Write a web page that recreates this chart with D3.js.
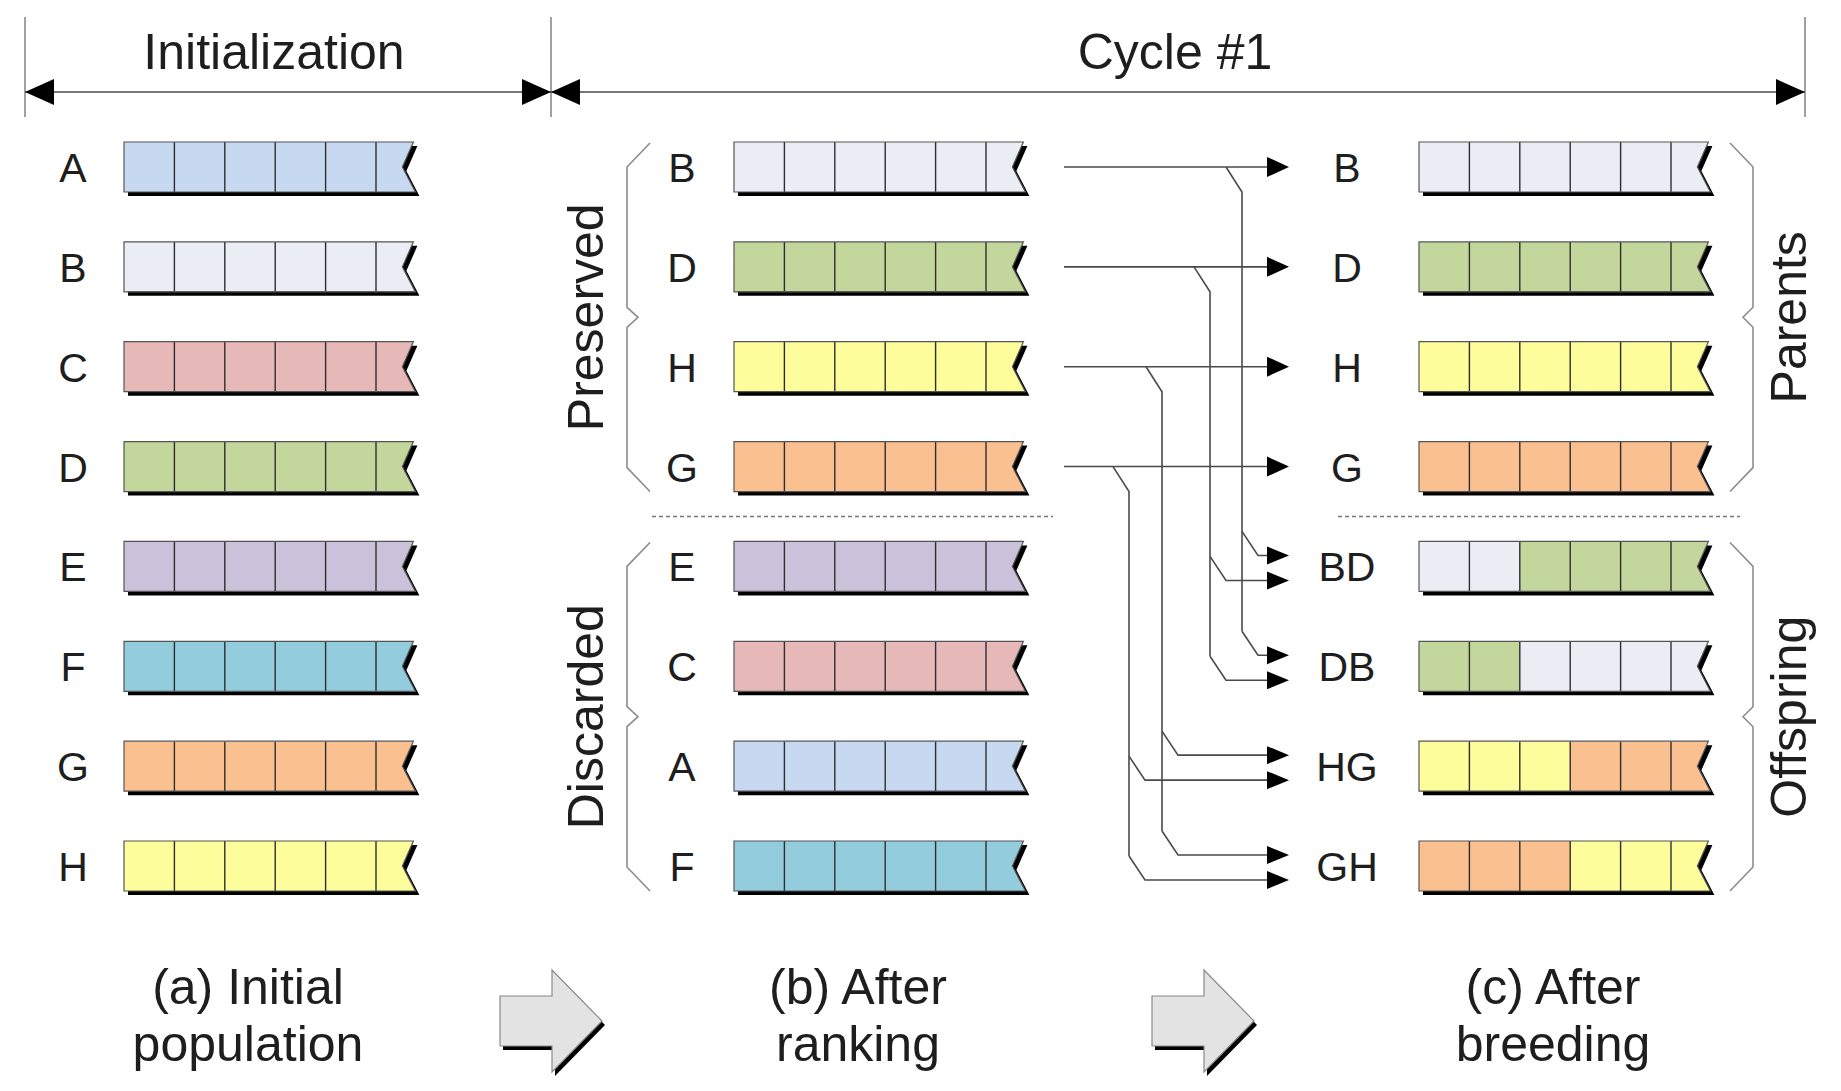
<!DOCTYPE html>
<html>
<head>
<meta charset="utf-8">
<script src="https://cdn.jsdelivr.net/npm/d3@7"></script>
<style>
  html, body { margin: 0; padding: 0; background: #ffffff; }
  svg { display: block; }
</style>
</head>
<body>
<script>
// ---------------- data ----------------
const initialRows = ["A", "B", "C", "D", "E", "F", "G", "H"];
const rankedRows = ["B", "D", "H", "G", "E", "C", "A", "F"];
const bredRows = ["B", "D", "H", "G", "BD", "DB", "HG", "GH"];
const crossoverCut = [6, 6, 6, 6, 2, 2, 3, 3];   // genes taken from the first parent
const geneCount = 6;
const parentRows = ["B", "D", "H", "G"];
const geneKeys = ["A", "B", "C", "D", "E", "F", "G", "H"];
const geneColors = ["#c6d9f1", "#eaedf4", "#e6b9b8", "#c3d69b", "#ccc1da", "#93cddd", "#fac090", "#fdfd9c"];
const phaseTitles = ["Initialization", "Cycle #1"];
const captions = [["(a) Initial", "population"], ["(b) After", "ranking"], ["(c) After", "breeding"]];
const groupLabels = ["Preserved", "Discarded", "Parents", "Offspring"];

// ---------------- layout ----------------
const W = 1841, H = 1091;
const FONT = "'Liberation Sans', Arial, Helvetica, sans-serif";
const TEXT = "#1e1e1e";
const LINE = "#4a4a4a";

const svg = d3.select("body").append("svg").attr("width", W).attr("height", H);

const y = d3.scalePoint().domain(d3.range(8)).range([167, 866]);
const gx = d3.scaleLinear().domain([0, geneCount]).range([0, 302.4]);
const color = d3.scaleOrdinal().domain(geneKeys).range(geneColors);
const BAR_H = 50;
const barEnd = gx(geneCount);
const barPath = `M0,0H${barEnd - 13}L${barEnd - 24},${BAR_H / 2}L${barEnd - 11},${BAR_H}H0Z`;

svg.append("defs").append("clipPath").attr("id", "barclip")
  .append("path").attr("d", barPath);

function genesOf(label, i) {
  if (label.length === 1) return d3.range(geneCount).map(() => label);
  return d3.range(geneCount).map(j => (j < crossoverCut[i] ? label[0] : label[1]));
}

function drawColumn(labels, x0, labelX) {
  labels.forEach((lab, i) => {
    const g = svg.append("g").attr("transform", `translate(${x0},${y(i) - BAR_H / 2})`);
    g.append("path").attr("d", barPath).attr("transform", "translate(4,4)").attr("fill", "#000");
    const cells = g.append("g").attr("clip-path", "url(#barclip)");
    cells.selectAll("rect").data(genesOf(lab, i)).join("rect")
      .attr("x", (d, j) => gx(j)).attr("y", 0)
      .attr("width", gx(1) - gx(0) + 0.5).attr("height", BAR_H)
      .attr("fill", d => color(d));
    cells.selectAll("line").data(d3.range(1, geneCount)).join("line")
      .attr("x1", d => gx(d)).attr("x2", d => gx(d))
      .attr("y1", 0).attr("y2", BAR_H)
      .attr("stroke", "#2e2e2e").attr("stroke-width", 1.4);
    g.append("path").attr("d", barPath).attr("fill", "none")
      .attr("stroke", "#555").attr("stroke-width", 1.2);
    svg.append("text").attr("x", labelX).attr("y", y(i) + 15)
      .attr("text-anchor", "middle").attr("font-family", FONT)
      .attr("font-size", 41).attr("fill", TEXT).text(lab);
  });
}

drawColumn(initialRows, 124, 73);
drawColumn(rankedRows, 734, 682);
drawColumn(bredRows, 1419, 1347);

// ---------------- top dimension lines ----------------
const dimY = 92;
const dimX = [25, 551, 1805];
const dim = svg.append("g");
dimX.forEach(x => dim.append("line").attr("x1", x).attr("x2", x).attr("y1", 17).attr("y2", 117)
  .attr("stroke", "#8a8a8a").attr("stroke-width", 1.6));
dim.append("line").attr("x1", dimX[0]).attr("x2", dimX[2]).attr("y1", dimY).attr("y2", dimY)
  .attr("stroke", LINE).attr("stroke-width", 1.6);
function triangle(tipX, tipY, dir, len, half) {
  return `M${tipX},${tipY}L${tipX - dir * len},${tipY - half}L${tipX - dir * len},${tipY + half}Z`;
}
[[dimX[0], -1], [dimX[1], 1], [dimX[1], -1], [dimX[2], 1]].forEach(([x, dir]) =>
  dim.append("path").attr("d", triangle(x, dimY, dir, 29, 13)).attr("fill", "#000"));
phaseTitles.forEach((t, i) => {
  svg.append("text").attr("x", [274, 1175][i]).attr("y", 69)
    .attr("text-anchor", "middle").attr("font-family", FONT)
    .attr("font-size", 50).attr("fill", TEXT).text(t);
});

// ---------------- connectors (b) -> (c) ----------------
const laneX = { B: 1242, D: 1210, H: 1162, G: 1129 };
const conn = svg.append("g").attr("fill", "none").attr("stroke", LINE).attr("stroke-width", 1.6);
const heads = svg.append("g").attr("fill", "#000");
const startX = 1064, tipX = 1289, headLen = 22;

parentRows.forEach((p, i) => {
  conn.append("line").attr("x1", startX).attr("x2", tipX - headLen)
    .attr("y1", y(i)).attr("y2", y(i));
  heads.append("path").attr("d", triangle(tipX, y(i), 1, headLen, 10));
});

// offspring arrows: the parent on the rightmost lane feeds the upper arrow
const offspringArrows = [];
bredRows.forEach((lab, k) => {
  if (lab.length < 2) return;
  const ps = lab.split("").sort((a, b) => laneX[b] - laneX[a]);
  offspringArrows.push({ parent: ps[0], ay: y(k) - 11 });
  offspringArrows.push({ parent: ps[1], ay: y(k) + 14 });
});

parentRows.forEach((p, i) => {
  const lx = laneX[p];
  const mine = offspringArrows.filter(a => a.parent === p);
  const lastY = d3.max(mine, a => a.ay);
  conn.append("path").attr("d", `M${lx - 16},${y(i)}L${lx},${y(i) + 25}L${lx},${lastY - 24}`);
  mine.forEach(a => {
    conn.append("path").attr("d", `M${lx},${a.ay - 24}L${lx + 16},${a.ay}L${tipX - headLen},${a.ay}`);
    heads.append("path").attr("d", triangle(tipX, a.ay, 1, headLen, 9));
  });
});

// ---------------- separators ----------------
const sepY = (y(3) + y(4)) / 2;
[[652, 1053], [1338, 1740]].forEach(([a, b]) =>
  svg.append("line").attr("x1", a).attr("x2", b).attr("y1", sepY).attr("y2", sepY)
    .attr("stroke", "#777").attr("stroke-width", 1.3).attr("stroke-dasharray", "4,3"));

// ---------------- braces + group labels ----------------
function brace(xEnd, xLine, xKink, yTop, yBot) {
  const mid = (yTop + yBot) / 2;
  return `M${xEnd},${yTop}L${xLine},${yTop + 24}L${xLine},${mid - 10}L${xKink},${mid}` +
    `L${xLine},${mid + 10}L${xLine},${yBot - 24}L${xEnd},${yBot}`;
}
const braceSpecs = [
  { lab: groupLabels[0], e: 650, l: 627, k: 638, r0: 0, r1: 3, tx: 603 },
  { lab: groupLabels[1], e: 650, l: 627, k: 638, r0: 4, r1: 7, tx: 603 },
  { lab: groupLabels[2], e: 1730, l: 1753, k: 1743, r0: 0, r1: 3, tx: 1806 },
  { lab: groupLabels[3], e: 1730, l: 1753, k: 1743, r0: 4, r1: 7, tx: 1806 }
];
braceSpecs.forEach(s => {
  const yTop = y(s.r0) - 24, yBot = y(s.r1) + 25;
  svg.append("path").attr("d", brace(s.e, s.l, s.k, yTop, yBot))
    .attr("fill", "none").attr("stroke", "#8c8c8c").attr("stroke-width", 1.6);
  const cy = (yTop + yBot) / 2;
  svg.append("text").attr("transform", `translate(${s.tx},${cy}) rotate(-90)`)
    .attr("text-anchor", "middle").attr("font-family", FONT)
    .attr("font-size", 50).attr("fill", TEXT).text(s.lab);
});

// ---------------- captions ----------------
const captionX = [248, 858, 1553];
captions.forEach((lines, i) => {
  lines.forEach((t, j) => {
    svg.append("text").attr("x", captionX[i]).attr("y", 1004 + j * 57)
      .attr("text-anchor", "middle").attr("font-family", FONT)
      .attr("font-size", 50).attr("fill", TEXT).text(t);
  });
});

// ---------------- block arrows ----------------
const blockPath = "M0,-25H52V-51L102,0L52,51V25H0Z";
[500, 1152].forEach(x0 => {
  const g = svg.append("g").attr("transform", `translate(${x0},1021)`);
  g.append("path").attr("d", blockPath).attr("transform", "translate(3,4)").attr("fill", "#000");
  g.append("path").attr("d", blockPath).attr("fill", "#e3e3e3")
    .attr("stroke", "#8a8a8a").attr("stroke-width", 1.2);
});
</script>
</body>
</html>
